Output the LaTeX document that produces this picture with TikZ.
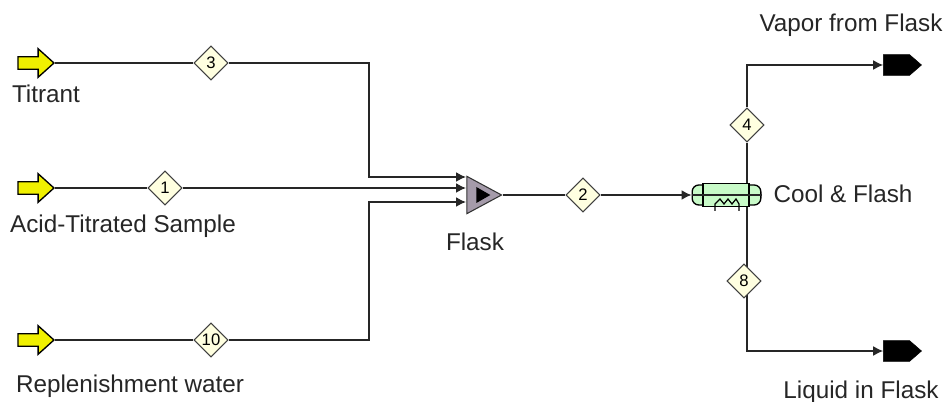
\documentclass[tikz,border=0pt]{standalone}
\usepackage{fontspec}
\usepackage{xcolor}
\setmainfont{Liberation Sans}
\usetikzlibrary{arrows.meta,backgrounds,shapes.arrows,shapes.geometric,shapes.symbols}
\definecolor{feedyellow}{RGB}{240,240,0}
\definecolor{streamcream}{RGB}{255,255,224}
\definecolor{mixgrey}{RGB}{165,155,170}
\definecolor{coolgreen}{RGB}{200,250,200}
\tikzset{
  label/.style={font=\fontsize{18.2pt}{20pt}\selectfont, text=black!85, inner sep=0pt},
  stream/.style={diamond, draw=black!75, fill=streamcream, line width=0.8pt, inner sep=0pt, minimum width=25.5pt, minimum height=25.5pt, font=\fontsize{12.5pt}{13pt}\selectfont},
  feed/.style={single arrow, draw=black, fill=feedyellow, line width=1pt, inner xsep=0pt, inner ysep=4.2pt, minimum height=27pt, single arrow head extend=6pt, single arrow tip angle=84},
  product/.style={signal, signal to=east, signal pointer angle=82, fill=black, draw=black, inner sep=0pt, minimum width=28.5pt, minimum height=15.5pt},
  mixer/.style={isosceles triangle, isosceles triangle stretches, draw=black!80, fill=mixgrey, line width=0.8pt, inner sep=0pt, minimum width=28pt, minimum height=26pt},
  line/.style={-{Latex[length=7.5pt,width=7.5pt]}, line width=1.2pt, black!85},
  plain/.style={line width=1.2pt, black!85}
}
\begin{document}
\begin{tikzpicture}[x=0.75pt, y=-0.75pt]
  \useasboundingbox (0,0) rectangle (948,402);
  % feeds and labels
  \node[feed] (titrant) at (32.5,63) {};
  \node[feed] (sample) at (32.5,188) {};
  \node[feed] (water) at (32.5,340) {};
  \node[label] (titranttext) at (46,94) {Titrant};
  \node[label] (sampletext) at (123,226) {Acid-Titrated Sample};
  \node[label] (watertext) at (130,386) {Replenishment water};
  % stream tags
  \node[stream] (s3) at (211,63) {3};
  \node[stream] (s1) at (165,188) {1};
  \node[stream] (s10) at (211,340) {10};
  \node[stream] (s2) at (583,195) {2};
  \node[stream] (s4) at (747,125) {4};
  \node[stream] (s8) at (744,281) {8};
  % flask
  \node[mixer] (flask) at (478,195) {};
  \node[isosceles triangle, isosceles triangle stretches, fill=black, inner sep=0pt, minimum width=12pt, minimum height=10.5pt] (flaskmark) at (481,195) {};
  \node[label] (flasktext) at (475,242) {Flask};
  % cooler
  \node[draw=black, fill=coolgreen, line width=1pt, rounded corners=5pt, inner sep=0pt, minimum width=51.5pt, minimum height=15pt] (cooler) at (726.5,195) {};
  \node[draw=black, fill=coolgreen, line width=1pt, inner sep=0pt, minimum width=34.5pt, minimum height=17pt] (shell) at (726,195) {};
  \draw[plain] (cooler.west) -- (cooler.east);
  \draw[line width=0.9pt] (715,211) -- (715,204) -- (720,199) -- (724,204) -- (728,199) -- (732,204) -- (736,199) -- (739,204) -- (739,211);
  \node[label] (coolertext) at (843,194) {Cool \& Flash};
  % products
  \node[product] (vapor) at (896.5,65) {};
  \node[product] (liquid) at (896.5,351) {};
  \node[label] (vaportext) at (851,25) {Vapor from Flask};
  \node[label] (liquidtext) at (861,392) {Liquid in Flask};
  % bends and inlets
  \coordinate (in3) at (466,177);
  \coordinate (in1) at (466,188);
  \coordinate (in10) at (466,202);
  \coordinate (bus3) at (369,177);
  \coordinate (bus10) at (369,202);
  \coordinate (top) at (747,65);
  \coordinate (bottom) at (747,351);
  \begin{scope}[on background layer]
    \draw[plain] (titrant) -- (s3);
    \draw[line] (s3) -| (bus3) -- (in3);
    \draw[plain] (sample) -- (s1);
    \draw[line] (s1) -- (in1);
    \draw[plain] (water) -- (s10);
    \draw[line] (s10) -| (bus10) -- (in10);
    \draw[plain] (flask) -- (s2);
    \draw[line] (s2) -- (cooler);
    \draw[plain] (top |- cooler) -- (s4);
    \draw[line] (s4) -- (top) -- (vapor);
    \draw[line] (top |- cooler) -- (bottom) -- (liquid);
  \end{scope}
\end{tikzpicture}
\end{document}
